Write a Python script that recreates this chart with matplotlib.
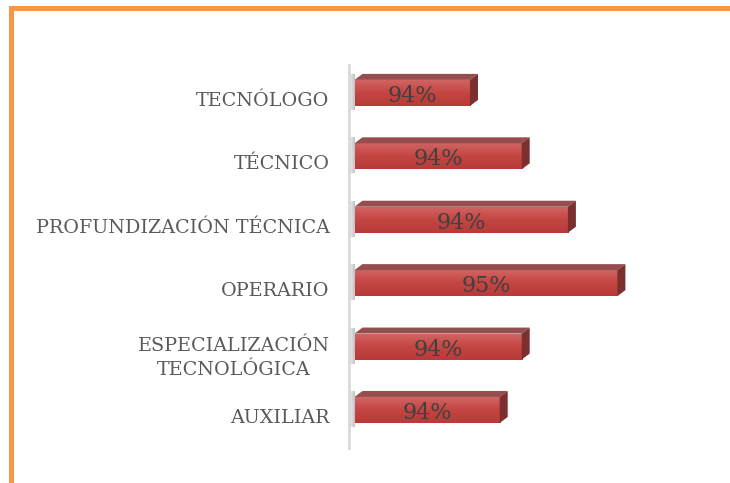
import matplotlib
matplotlib.use("Agg")
import matplotlib.pyplot as plt
import matplotlib.transforms as mtransforms
import numpy as np
from matplotlib.patches import Polygon, Rectangle
from matplotlib.colors import LinearSegmentedColormap

categories = ["TECNÓLOGO", "TÉCNICO", "PROFUNDIZACIÓN TÉCNICA", "OPERARIO",
              "ESPECIALIZACIÓN\nTECNOLÓGICA", "AUXILIAR"]
values = [0.9355, 0.9402, 0.9444, 0.9489, 0.9402, 0.9382]
base = 0.925

fig = plt.figure(figsize=(7.3, 4.83), dpi=100)
W, H = 730, 483
# axes placement in pixels
ax_l, ax_r, ax_t, ax_b = 349, 700, 65, 448
ax = fig.add_axes([ax_l / W, 1 - ax_b / H, (ax_r - ax_l) / W, (ax_b - ax_t) / H])
xmin, xmax = 0.9245, 0.9245 + (ax_r - ax_l) / 11000
ymin, ymax = 5.6, -0.44
sx = (ax_r - ax_l) / (xmax - xmin)
sy = (ax_b - ax_t) / (ymin - ymax)

h = 26 / sy
dx, dy = 8 / sx, 6 / sy
grad = LinearSegmentedColormap.from_list("g", ["#d06462", "#c44542", "#b83b39"])
g = np.linspace(0, 1, 50).reshape(-1, 1)
shade = LinearSegmentedColormap.from_list("s", ["#ffffff", "#7a7a7a"])

for i, v in enumerate(values):
    top, bot = i - h / 2, i + h / 2
    # soft shadow at the left end of the bar
    ax.imshow(np.linspace(0, 1, 20).reshape(1, -1), cmap=shade, alpha=0.45,
              extent=[base - 7 / sx, base, bot + 4 / sy, top - dy], aspect="auto", zorder=1)
    ax.imshow(g, cmap=grad, extent=[base, v, bot, top], aspect="auto", zorder=2)
    ax.add_patch(Polygon([(base, top), (v, top), (v + dx, top - dy), (base + dx, top - dy)],
                         closed=True, facecolor="#954e4d", edgecolor="none", zorder=3))
    ax.add_patch(Polygon([(v, top), (v + dx, top - dy), (v + dx, bot - dy), (v, bot)],
                         closed=True, facecolor="#7b2f2e", edgecolor="none", zorder=3))
    ax.text((base + v) / 2, i + 3 / sy, "{:.0%}".format(v), ha="center", va="center",
            fontsize=16, color="#404040", family="DejaVu Serif", zorder=4)

ax.set_xlim(xmin, xmax)
ax.set_ylim(ymin, ymax)
ax.set_yticks(range(len(categories)))
ax.set_yticklabels(categories, fontsize=13.8, color="#595959", family="DejaVu Serif",
                   linespacing=1.45, multialignment="center")
ax.tick_params(axis="y", length=0, pad=14)
ax.set_xticks([])
for s in ["top", "right", "bottom"]:
    ax.spines[s].set_visible(False)
ax.spines["left"].set_color("#d9d9d9")
ax.spines["left"].set_linewidth(2)
shift = mtransforms.ScaledTranslation(0, -6 / 100, fig.dpi_scale_trans)
for lbl in ax.get_yticklabels():
    lbl.set_transform(lbl.get_transform() + shift)

# orange frame at top and left
fig.add_artist(Rectangle((9 / W, 1 - 11 / H), 1, 5 / H, transform=fig.transFigure,
                         facecolor="#f79646", edgecolor="none"))
fig.add_artist(Rectangle((9 / W, 0), 5 / W, 1 - 6 / H, transform=fig.transFigure,
                         facecolor="#f79646", edgecolor="none"))

fig.savefig("out.png", dpi=100)
